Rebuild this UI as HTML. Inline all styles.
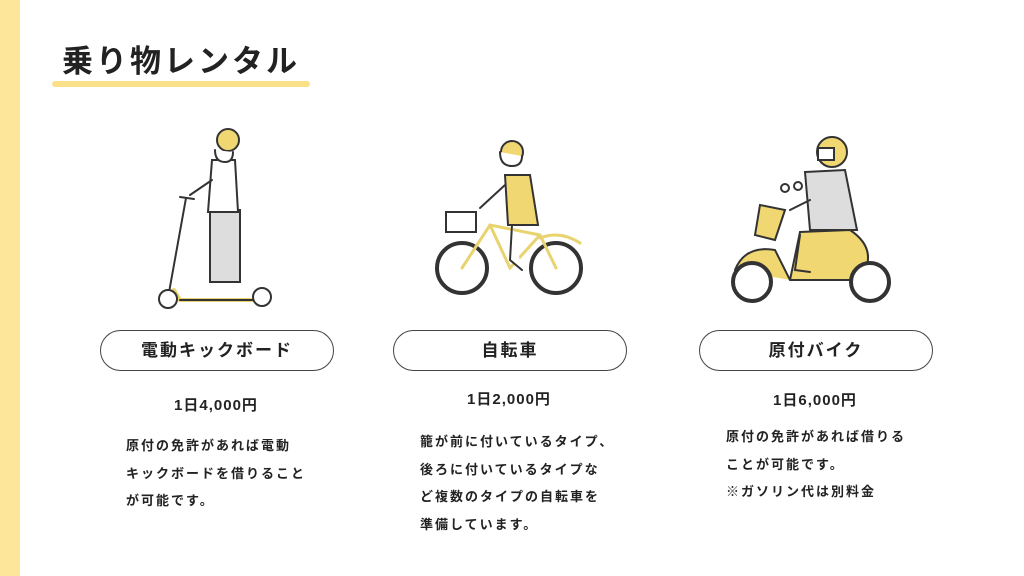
<!DOCTYPE html>
<html><head><meta charset="utf-8"><style>
body{margin:0;width:1024px;height:576px;background:#fff;position:relative;overflow:hidden;font-family:"Liberation Sans","Noto Sans CJK JP",sans-serif;color:#222}
.stripe{position:absolute;left:0;top:0;width:20px;height:576px;background:#fde69a}
.title{position:absolute;left:62px;top:40px;font-size:31px;font-weight:bold;letter-spacing:3px;line-height:44px}
.ul{position:absolute;left:52px;top:81px;width:258px;height:6px;background:#fbe08a;border-radius:3px}
.pill{position:absolute;top:330px;width:232px;height:39px;border:1.3px solid #444;border-radius:21px;text-align:center;line-height:39px;font-size:17px;font-weight:bold;letter-spacing:2px}
.price{position:absolute;width:234px;text-align:center;font-size:15px;font-weight:bold;letter-spacing:1px}
.desc{position:absolute;font-size:13px;font-weight:bold;line-height:27.5px;letter-spacing:2px}
svg{position:absolute;left:0;top:0}
</style></head><body>
<div class="stripe"></div>
<div class="title">乗り物レンタル</div>
<div class="ul"></div>
<svg width="1024" height="330" fill="none" stroke="#333" stroke-width="2" stroke-linecap="round">
<line x1="168" y1="298" x2="186" y2="198"/>
<line x1="180" y1="197" x2="194" y2="199"/>
<path d="M174 290 L180 300 L258 300" stroke-width="4" stroke="#e8d36e"/>
<path d="M180 300 L258 300"/>
<circle cx="168" cy="299" r="9" fill="#fff"/><circle cx="262" cy="297" r="9" fill="#fff"/>
<rect x="210" y="210" width="30" height="72" fill="#ddd"/>
<path d="M212 160 L235 160 L238 212 L208 212 Z" fill="#fff"/>
<circle cx="228" cy="140" r="11" fill="#f0d771"/>
<path d="M215 150 q0 12 10 12 q8 0 8 -10" fill="#fff"/>
<path d="M212 180 L190 195"/>
<circle cx="462" cy="268" r="25" stroke-width="4"/><circle cx="556" cy="268" r="25" stroke-width="4"/>
<path d="M462 268 L490 225 L540 235 L556 268 M490 225 L510 268 L540 235" stroke="#e8d36e" stroke-width="3"/>
<rect x="446" y="212" width="30" height="20"/>
<path d="M540 238 q20 -8 40 5" stroke="#e8d36e" stroke-width="3"/>
<path d="M505 175 L530 175 L538 225 L508 225 Z" fill="#f0d771"/>
<circle cx="512" cy="152" r="11" fill="#f0d771"/>
<path d="M500 152 q0 14 12 14 q10 0 10 -10" fill="#fff"/>
<path d="M512 225 L510 260 L522 270" fill="#fff"/>
<path d="M505 185 L480 208"/>
<path d="M735 270 q10 -25 40 -20 L790 280 L860 280 q20 -30 -10 -50 L800 232 L790 280" fill="#f0d771"/>
<path d="M760 205 L785 210 L775 240 L755 235 Z" fill="#f0d771"/>
<circle cx="752" cy="282" r="19" fill="#fff" stroke-width="4"/><circle cx="870" cy="282" r="19" fill="#fff" stroke-width="4"/>
<path d="M805 172 L845 170 L857 230 L810 230 Z" fill="#ddd"/>
<circle cx="832" cy="152" r="15" fill="#f0d771"/>
<rect x="818" y="148" width="16" height="12" fill="#fff"/>
<path d="M810 200 L790 210 M800 235 L795 270 L810 272" />
<circle cx="785" cy="188" r="4"/><circle cx="798" cy="186" r="4"/>
</svg>
<div class="pill" style="left:100px">電動キックボード</div>
<div class="pill" style="left:393px">自転車</div>
<div class="pill" style="left:699px">原付バイク</div>
<div class="price" style="left:99px;top:394px">1日4,000円</div>
<div class="price" style="left:392px;top:388px">1日2,000円</div>
<div class="price" style="left:698px;top:389px">1日6,000円</div>
<div class="desc" style="left:126px;top:432px">原付の免許があれば電動<br>キックボードを借りること<br>が可能です。</div>
<div class="desc" style="left:420px;top:428px">籠が前に付いているタイプ、<br>後ろに付いているタイプな<br>ど複数のタイプの自転車を<br>準備しています。</div>
<div class="desc" style="left:726px;top:423px">原付の免許があれば借りる<br>ことが可能です。<br>※ガソリン代は別料金</div>
</body></html>
